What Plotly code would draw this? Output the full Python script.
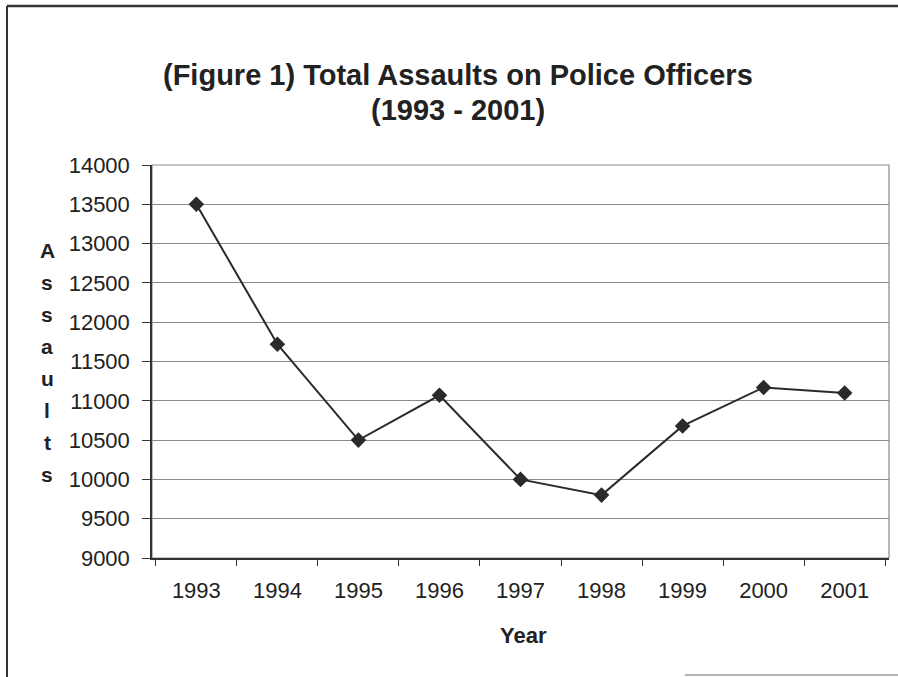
import plotly.graph_objects as go

# Annual totals of assaults on police officers
years = ["1993", "1994", "1995", "1996", "1997", "1998", "1999", "2000", "2001"]
assaults = [13500, 11720, 10500, 11070, 10000, 9800, 10680, 11170, 11100]

y_ticks = list(range(9000, 14001, 500))
y_letters = list("Assaults")

W, H = 898, 677
L, R, T, B = 152, 889, 165, 558   # plot area in pixels
PW, PH = R - L, B - T


def px(x):
    return (x - L) / PW


def py(y):
    return (B - y) / PH


FONT = "Liberation Sans, Arial, sans-serif"
INK = "#222222"

fig = go.Figure()
fig.add_trace(go.Scatter(
    x=years, y=assaults, mode="lines+markers",
    line=dict(color="#2a2a2a", width=2),
    marker=dict(symbol="diamond", size=12, color="#2a2a2a"),
    showlegend=False,
))

fig.update_layout(
    width=W, height=H,
    margin=dict(l=L, r=W - R, t=T, b=H - B),
    paper_bgcolor="white", plot_bgcolor="white",
    font=dict(family=FONT, size=22, color=INK),
    xaxis=dict(
        type="category", tickson="boundaries", ticks="outside", ticklen=6,
        tickcolor="#333", showgrid=False, showline=True, linecolor="#333",
        linewidth=1.5, ticklabelstandoff=12, zeroline=False,
        tickfont=dict(size=22),
    ),
    yaxis=dict(
        range=[9000, 14000], tickvals=y_ticks, tickformat="d",
        ticks="outside", ticklen=8,
        tickcolor="#333", showgrid=True, gridcolor="#8a8a8a", gridwidth=1,
        showline=True, linecolor="#333", linewidth=1.5, ticklabelstandoff=8,
        zeroline=False, tickfont=dict(size=22),
    ),
)

shapes = [
    # plot area frame
    dict(type="rect", xref="paper", yref="paper", x0=0, x1=1, y0=0, y1=1,
         line=dict(color="#8a8a8a", width=1.2), layer="below"),
    # chart border
    dict(type="line", xref="paper", yref="paper", x0=px(7), x1=px(W + 5),
         y0=py(6), y1=py(6), line=dict(color="#333", width=2.5)),
    dict(type="line", xref="paper", yref="paper", x0=px(7), x1=px(7),
         y0=py(6), y1=py(H + 5), line=dict(color="#333", width=2)),
    dict(type="line", xref="paper", yref="paper", x0=px(685), x1=px(W + 5),
         y0=py(675), y1=py(675), line=dict(color="#999", width=1.5)),
]
fig.update_layout(shapes=shapes)

ann = []
title_lines = ["(Figure 1) Total Assaults on Police Officers", "(1993 - 2001)"]
for i, line in enumerate(title_lines):
    ann.append(dict(text=line, xref="paper", yref="paper", x=px(458), y=py(75 + 35 * i),
                    xanchor="center", yanchor="middle", showarrow=False,
                    font=dict(family=FONT, size=29, color=INK, weight="bold")))

ann.append(dict(text="Year", xref="paper", yref="paper", x=px(523), y=py(635),
                xanchor="center", yanchor="middle", showarrow=False,
                font=dict(family=FONT, size=22, color=INK, weight="bold")))

for i, ch in enumerate(y_letters):
    ann.append(dict(text=ch, xref="paper", yref="paper", x=px(47), y=py(250 + 32.1 * i),
                    xanchor="center", yanchor="middle", showarrow=False,
                    font=dict(family=FONT, size=21, color=INK, weight="bold")))

fig.update_layout(annotations=ann)

fig.write_html("out.html")
